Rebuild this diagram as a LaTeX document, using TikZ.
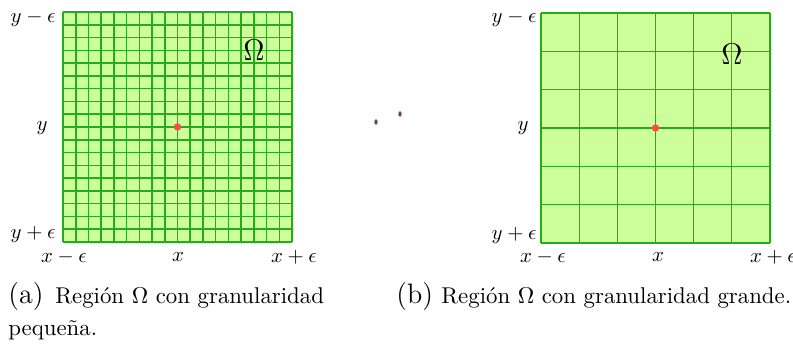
\documentclass[tikz,border=0pt]{standalone}
\usepackage{fontspec}
\usetikzlibrary{positioning}
\definecolor{GridGreen}{RGB}{40,170,30}
\definecolor{FillGreen}{HTML}{CCFF99}
\definecolor{ProbeRed}{HTML}{F94B4B}

\begin{document}
\begin{tikzpicture}[x=0.48pt, y=-0.48pt,
  lbl/.style={inner sep=0pt},
  omega/.style={inner sep=0pt, font=\Large},
  probe/.style={circle, fill=ProbeRed, inner sep=0pt, minimum size=3.6pt},
  capnum/.style={inner sep=0pt, anchor=base west, font=\fontsize{13.5}{16}\selectfont},
  captext/.style={inner sep=0pt, anchor=base west, font=\fontsize{10.95}{13}\selectfont}
]
\useasboundingbox (0,0) rectangle (793,345);

% (a) fine grid, 18 x 18 cells
\fill[FillGreen] (63,12) rectangle (292,242);
\foreach \i in {0,...,18}{
  \draw[GridGreen, line width=0.75pt] ({63+\i*229/18},12) -- ({63+\i*229/18},242);
  \draw[GridGreen, line width=0.75pt] (63,{12+\i*230/18}) -- (292,{12+\i*230/18});
}
\node[probe] (ptA) at (177.5,127) {};
\node[omega] (omA) at (254,50) {$\Omega$};
\node[lbl, anchor=east] (ytopA) at (56,18) {$y-\epsilon$};
\node[lbl, anchor=east] (ymidA) at (48,128) {$y$};
\node[lbl, anchor=east] (ybotA) at (56,234) {$y+\epsilon$};
\node[lbl] (xlA) at (64,257) {$x-\epsilon$};
\node[lbl] (xmA) at (178,257) {$x$};
\node[lbl] (xrA) at (294,257) {$x+\epsilon$};

% (b) coarse grid, 6 x 6 cells
\fill[FillGreen] (541,13) rectangle (770,243);
\foreach \i in {0,...,6}{
  \draw[GridGreen, line width=0.55pt] ({541+\i*229/6},13) -- ({541+\i*229/6},243);
  \draw[GridGreen, line width=0.55pt] (541,{13+\i*230/6}) -- (770,{13+\i*230/6});
}
\node[probe] (ptB) at (655.5,128) {};
\node[omega] (omB) at (732,54) {$\Omega$};
\node[lbl, anchor=east] (ytopB) at (537,18) {$y-\epsilon$};
\node[lbl, anchor=east] (ymidB) at (529,128) {$y$};
\node[lbl, anchor=east] (ybotB) at (537,235) {$y+\epsilon$};
\node[lbl] (xlB) at (543,257) {$x-\epsilon$};
\node[lbl] (xmB) at (658,257) {$x$};
\node[lbl] (xrB) at (773,257) {$x+\epsilon$};

% stray specks between the panels
\filldraw[draw=black!70, fill=ProbeRed!80!black, line width=0.4pt] (376,122) ellipse [x radius=1.2, y radius=2.2];
\filldraw[draw=black!70, fill=ProbeRed!80!black, line width=0.4pt] (400,114) ellipse [x radius=1.2, y radius=2.2];

% captions
\node[capnum] (numA) at (8,303) {(a)};
\node[captext] (capA) at (55,303) {Región $\Omega$ con granularidad};
\node[captext] (capA2) at (8,335) {pequeña.};
\node[capnum] (numB) at (396,303) {(b)};
\node[captext] (capB) at (441,303) {Región $\Omega$ con granularidad grande.};
\end{tikzpicture}
\end{document}
